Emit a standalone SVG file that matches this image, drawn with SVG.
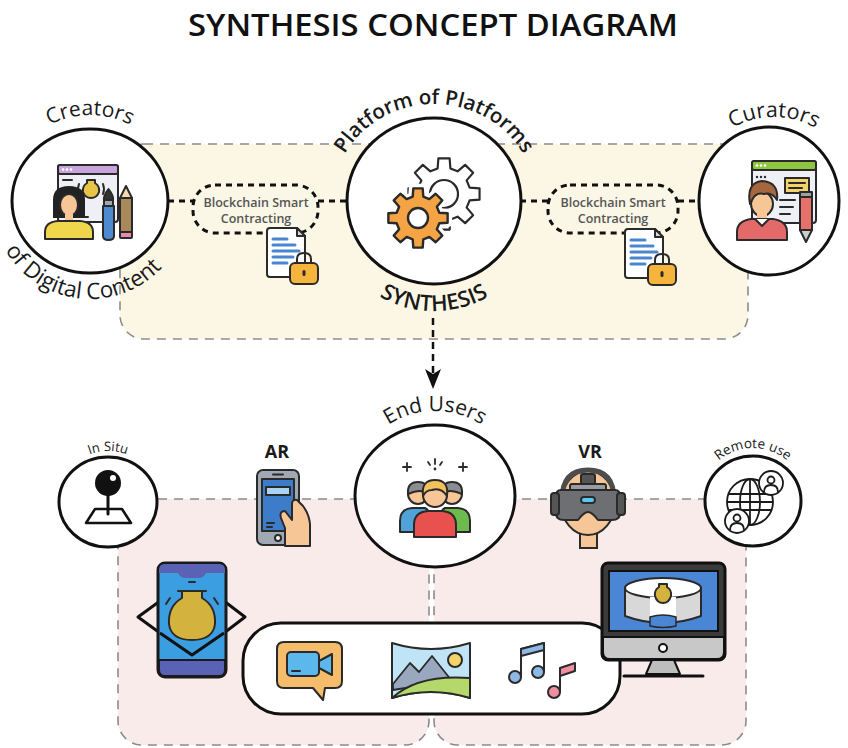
<svg xmlns="http://www.w3.org/2000/svg" xmlns:xlink="http://www.w3.org/1999/xlink" width="848" height="748" viewBox="0 0 848 748">
  <style>
    .zone { stroke:#8c8c8c; stroke-width:1.6; stroke-dasharray:9 7; }
    .ring { fill:#fff; stroke:#111; stroke-width:3; }
    .link { fill:none; stroke:#111; stroke-width:3; stroke-dasharray:6 5; }
    .ol { stroke:#2a2a2a; stroke-width:2; stroke-linejoin:round; stroke-linecap:round; }
    .arc { font-family:"Open Sans","DejaVu Sans",sans-serif; fill:#1a1a1a; }
    .box { fill:#fbf7e6; stroke:#111; stroke-width:3; stroke-dasharray:6 5; }
    .boxtxt { font-family:"Open Sans","DejaVu Sans",sans-serif; font-size:12.5px; font-weight:600; fill:#555; text-anchor:middle; }
    .lbl { font-family:"Open Sans","DejaVu Sans",sans-serif; font-size:18px; font-weight:700; fill:#1a1a1a; text-anchor:middle; }
    .peach { fill:#f6c697; }
  </style>
  <defs>
    <path id="gear" d="M21.35,-5.32 L29.63,-4.69 L29.63,4.69 L21.35,5.32 L18.86,11.33 L24.27,17.63 L17.63,24.27 L11.33,18.86 L5.32,21.35 L4.69,29.63 L-4.69,29.63 L-5.32,21.35 L-11.33,18.86 L-17.63,24.27 L-24.27,17.63 L-18.86,11.33 L-21.35,5.32 L-29.63,4.69 L-29.63,-4.69 L-21.35,-5.32 L-18.86,-11.33 L-24.27,-17.63 L-17.63,-24.27 L-11.33,-18.86 L-5.32,-21.35 L-4.69,-29.63 L4.69,-29.63 L5.32,-21.35 L11.33,-18.86 L17.63,-24.27 L24.27,-17.63 L18.86,-11.33 Z"/>
    <symbol id="contract" viewBox="0 0 52 58" width="52" height="58" overflow="visible">
      <path class="ol" d="M0,3 Q0,0 3,0 H30 L38,8 V46 Q38,49 35,49 H3 Q0,49 0,46 Z" fill="#fff"/>
      <path class="ol" d="M30,0 V8 H38 Z" fill="#d8d8d8"/>
      <g stroke="#4a86d0" stroke-width="3" stroke-linecap="round">
        <line x1="6" y1="11" x2="20" y2="11"/>
        <line x1="6" y1="17" x2="28" y2="17"/>
        <line x1="6" y1="23" x2="32" y2="23"/>
        <line x1="6" y1="29" x2="26" y2="29"/>
        <line x1="6" y1="35" x2="20" y2="35"/>
      </g>
      <path class="ol" d="M30,36 V31 Q30,25 37,25 Q44,25 44,31 V36" fill="none" stroke-width="2.5"/>
      <rect class="ol" x="23" y="35" width="28" height="21" rx="5" fill="#f5b43c"/>
      <rect x="35.5" y="42" width="3" height="6" rx="1.5" fill="#2a2a2a"/>
    </symbol>
    <marker id="arrowHead" viewBox="0 0 20 16" refX="18" refY="8" markerWidth="20" markerHeight="16" markerUnits="userSpaceOnUse" orient="auto">
      <path d="M0,0 L20,8 L0,16 L5,8 Z" fill="#111"/>
    </marker>
    <path id="pCreators" d="M4,201 A86,86 0 0 1 176,201"/>
    <path id="pDigital" d="M-8,201 A98,98 0 0 0 188,201"/>
    <path id="pPlatform" d="M332,201 A102,97 0 0 1 536,201"/>
    <path id="pSynth" d="M324,201 A110,110 0 0 0 544,201"/>
    <path id="pCurators" d="M690,201 A84,84 0 0 1 858,201"/>
    <path id="pEnd" d="M350,496 A85,85 0 0 1 520,496"/>
    <path id="pSitu" d="M57,502 A51,51 0 0 1 159,502"/>
    <path id="pRemote" d="M700,501 A53,53 0 0 1 806,501"/>
  </defs>

  <rect width="848" height="748" fill="#fff"/>

  <!-- heading -->
  <text x="433" y="36" text-anchor="middle" font-family="'Open Sans','DejaVu Sans',sans-serif" font-size="30" font-weight="600" fill="#111" textLength="490" lengthAdjust="spacingAndGlyphs">SYNTHESIS CONCEPT DIAGRAM</text>

  <!-- background zones -->
  <g id="zones">
    <rect class="zone" x="120" y="144" width="628" height="195" rx="24" fill="#fcf7e4"/>
    <rect class="zone" x="118" y="499" width="311" height="246" rx="24" fill="#f8ebe9"/>
    <rect class="zone" x="434" y="499" width="312" height="246" rx="24" fill="#f8ebe9"/>
  </g>

  <!-- connectors -->
  <g id="connectors">
    <line class="link" x1="168" y1="201" x2="194" y2="201"/>
    <line class="link" x1="318" y1="201" x2="348" y2="201"/>
    <line class="link" x1="520" y1="201" x2="548" y2="201"/>
    <line class="link" x1="678" y1="201" x2="700" y2="201"/>
    <line x1="433" y1="318" x2="433" y2="387" stroke="#111" stroke-width="2.5" stroke-dasharray="7 5" marker-end="url(#arrowHead)"/>
  </g>

  <!-- creators of digital content -->
  <g id="creators">
    <ellipse class="ring" cx="90" cy="201" rx="78" ry="72"/>
    <rect class="ol" x="58" y="165" width="60" height="57" rx="3" fill="#eef0f6"/>
    <rect class="ol" x="58" y="165" width="60" height="9" rx="2" fill="#c9a3dc"/>
    <g fill="#fff"><circle cx="63" cy="169.5" r="1.3"/><circle cx="67" cy="169.5" r="1.3"/><circle cx="71" cy="169.5" r="1.3"/></g>
    <line class="ol" x1="63" y1="180" x2="72" y2="180"/>
    <path class="ol" d="M87,180 H95 V183 Q100,186 99,192 Q97,198 91,198 Q85,198 83,192 Q82,186 87,183 Z" fill="#e8c447"/>
    <path class="ol" d="M79,184 Q77,189 79,194 M103,184 Q105,189 103,194" fill="none"/>
    <path class="ol" d="M78,205 V217 H88" fill="none"/>
    <path d="M53,218 V200 Q53,186 69,186 Q85,186 85,200 V218 Z" fill="#222"/>
    <ellipse class="ol peach" cx="69" cy="205" rx="9" ry="11"/>
    <path d="M60,196 Q69,188 78,196 V192 Q69,185 60,192 Z" fill="#222"/>
    <rect x="65" y="214" width="8" height="8" class="peach"/>
    <path class="ol" d="M45,239 V232 Q45,222 58,221 H80 Q93,222 93,232 V239 Z" fill="#f0d64c"/>
    <path class="ol" d="M108.5,189 Q114,196 113,200 H104 Q103,196 108.5,189 Z" fill="#333"/>
    <rect class="ol" x="104" y="200" width="9" height="6" fill="#a0a8b0"/>
    <path class="ol" d="M103,206 H114 V236 Q114,240 108.5,240 Q103,240 103,236 Z" fill="#4d8bd0"/>
    <rect class="ol" x="120" y="198" width="12" height="34" fill="#a88a5a"/>
    <path class="ol" d="M120,198 L126,186 L132,198 Z" fill="#f3d9b0"/>
    <rect class="ol" x="120" y="232" width="12" height="6" rx="1" fill="#e98bb0"/>
    <text class="arc" style="font-size:21px"><textPath href="#pCreators" startOffset="50%" text-anchor="middle">Creators</textPath></text>
    <text class="arc" style="font-size:22.5px"><textPath href="#pDigital" startOffset="46.5%" text-anchor="middle">of Digital Content</textPath></text>
  </g>

  <!-- smart contract boxes -->
  <g id="contract-left">
    <rect class="box" x="193" y="185" width="125" height="48" rx="22"/>
    <text class="boxtxt" x="256" y="207">Blockchain Smart</text>
    <text class="boxtxt" x="256" y="223">Contracting</text>
    <use href="#contract" x="267" y="228"/>
  </g>
  <g id="contract-right">
    <rect class="box" x="548" y="185" width="130" height="48" rx="22"/>
    <text class="boxtxt" x="613" y="207">Blockchain Smart</text>
    <text class="boxtxt" x="613" y="223">Contracting</text>
    <use href="#contract" x="625" y="229"/>
  </g>

  <!-- platform of platforms -->
  <g id="synthesis">
    <ellipse class="ring" cx="434" cy="201" rx="87" ry="83"/>
    <use href="#gear" transform="translate(444,194) scale(1.2)" fill="#fff" stroke="#2a2a2a" stroke-width="1.8" stroke-linejoin="round"/>
    <circle cx="444" cy="194" r="14" fill="none" stroke="#2a2a2a" stroke-width="2.2"/>
    <use href="#gear" transform="translate(418,218)" fill="#fff" stroke="#fff" stroke-width="9" stroke-linejoin="round"/>
    <use href="#gear" transform="translate(418,218)" fill="#f5a445" stroke="#2a2a2a" stroke-width="2.4" stroke-linejoin="round"/>
    <circle cx="418" cy="218" r="10" fill="#fff" stroke="#2a2a2a" stroke-width="2.4"/>
    <text class="arc" style="font-size:20.5px;font-weight:600"><textPath href="#pPlatform" startOffset="50%" text-anchor="middle">Platform of Platforms</textPath></text>
    <text class="arc" style="font-size:22px;font-weight:600"><textPath href="#pSynth" startOffset="50%" text-anchor="middle">SYNTHESIS</textPath></text>
  </g>

  <!-- curators -->
  <g id="curators">
    <ellipse class="ring" cx="769" cy="201" rx="70" ry="74"/>
    <rect class="ol" x="752" y="161" width="64" height="62" rx="3" fill="#eef0f6"/>
    <rect class="ol" x="752" y="161" width="64" height="9" rx="2" fill="#8dc63f"/>
    <g fill="#fff"><circle cx="757" cy="165.5" r="1.3"/><circle cx="761" cy="165.5" r="1.3"/><circle cx="765" cy="165.5" r="1.3"/></g>
    <g fill="#2a2a2a"><circle cx="757" cy="177" r="1.2"/><circle cx="761" cy="177" r="1.2"/><circle cx="765" cy="177" r="1.2"/></g>
    <rect class="ol" x="785" y="178" width="24" height="15" fill="#f5d36b"/>
    <path class="ol" d="M789,183 H805 M789,188 H802" fill="none"/>
    <path class="ol" d="M780,200 H795 M780,207 H793 M780,214 H790" fill="none"/>
    <ellipse class="ol peach" cx="762" cy="204" rx="11" ry="12"/>
    <path class="ol" d="M750,204 Q746,183 762,181 Q779,182 777,200 Q772,192 764,194 Q756,192 752,200 Z" fill="#a5673f"/>
    <rect x="757" y="213" width="10" height="8" class="peach"/>
    <path class="ol" d="M737,240 V232 Q737,221 751,219 H773 Q787,221 787,232 V240 Z" fill="#e46a6a"/>
    <path class="ol" d="M755,219 L762,226 L769,219" fill="#fff"/>
    <rect class="ol" x="800" y="192" width="12" height="5" fill="#9aa3a0"/>
    <rect class="ol" x="800" y="197" width="12" height="33" fill="#e8706a"/>
    <path class="ol" d="M800,230 L806,242 L812,230 Z" fill="#c9cfcc"/>
    <text class="arc" style="font-size:21.5px"><textPath href="#pCurators" startOffset="50%" text-anchor="middle">Curators</textPath></text>
  </g>

  <!-- in situ -->
  <g id="in-situ">
    <ellipse class="ring" cx="108" cy="502" rx="49" ry="45"/>
    <path d="M86,523 H131 L122,509 H95 Z" fill="none" stroke="#111" stroke-width="2.5" stroke-linejoin="round"/>
    <line x1="108" y1="494" x2="108" y2="514" stroke="#111" stroke-width="3" stroke-linecap="round"/>
    <circle cx="108" cy="483" r="13" fill="#111"/>
    <circle cx="113" cy="478" r="3" fill="#fff"/>
    <text class="arc" style="font-size:13px"><textPath href="#pSitu" startOffset="50%" text-anchor="middle">In Situ</textPath></text>
  </g>

  <!-- AR -->
  <g id="ar">
    <text class="lbl" x="277" y="458">AR</text>
    <rect class="ol" x="257" y="470" width="42" height="75" rx="6" fill="#9fa8b3"/>
    <rect class="ol" x="262" y="479" width="32" height="52" fill="#3d7cc9"/>
    <rect class="ol" x="266" y="487" width="24" height="8" fill="#a9d3f2"/>
    <line class="ol" x1="273" y1="474.5" x2="283" y2="474.5"/>
    <circle class="ol" cx="278" cy="538" r="3" fill="#fff"/>
    <path class="ol" d="M267,523 H274 M267,527 H272" fill="none" stroke="#a9d3f2"/>
    <path class="ol peach" d="M285,546 V528 L281,518 Q279,511 285,511 L292,520 V504 Q292,499 297,500 L303,506 Q309,514 310,524 V546 Z"/>
  </g>

  <!-- end users -->
  <g id="end-users">
    <ellipse class="ring" cx="435" cy="496" rx="80" ry="71"/>
    <g stroke="#2a2a2a" stroke-width="1.8" stroke-linecap="round">
      <path d="M403,467 H411 M407,463 V471"/>
      <path d="M459,467 H467 M463,463 V471"/>
      <path d="M435,459 V464 M428,462 L430,465 M442,462 L440,465"/>
    </g>
    <circle cx="435" cy="469" r="1.4" fill="#2a2a2a"/>
    <path class="ol" d="M400,532 V521 Q400,509 412,508 H425 Q431,511 431,522 V532 Z" fill="#4fa3d9"/>
    <path class="ol" d="M439,532 V522 Q439,511 445,508 H458 Q470,509 470,521 V532 Z" fill="#6dbb4f"/>
    <circle class="ol peach" cx="418" cy="494" r="10"/>
    <path class="ol" d="M408,494 Q407,482 418,482 Q429,482 428,494 Q422,488 408,494 Z" fill="#8a8d92"/>
    <circle class="ol peach" cx="452" cy="494" r="10"/>
    <path class="ol" d="M442,494 Q441,482 452,482 Q463,482 462,494 Q448,488 442,494 Z" fill="#8a8d92"/>
    <path class="ol" d="M414,537 V525 Q414,512 428,511 H442 Q456,512 456,525 V537 Z" fill="#e8514e"/>
    <circle class="ol peach" cx="435" cy="495" r="12"/>
    <path class="ol" d="M423,496 Q421,480 435,480 Q449,480 447,496 Q441,487 432,490 Q426,490 423,496 Z" fill="#f1c35a"/>
    <text class="arc" style="font-size:21px"><textPath href="#pEnd" startOffset="50%" text-anchor="middle">End Users</textPath></text>
  </g>

  <!-- VR -->
  <g id="vr">
    <text class="lbl" x="590" y="458">VR</text>
    <rect x="580" y="530" width="17" height="18" class="peach" stroke="#2a2a2a" stroke-width="2"/>
    <ellipse class="ol peach" cx="588" cy="503" rx="27" ry="32"/>
    <path d="M562,500 Q562,470 588,470 Q614,470 614,500" fill="none" stroke="#4d4d4d" stroke-width="5"/>
    <rect class="ol" x="581" y="474" width="14" height="14" rx="2" fill="#555"/>
    <rect class="ol" x="570" y="484" width="36" height="8" rx="2" fill="#9a9ca0"/>
    <path class="ol" d="M561,490 H615 Q620,490 620,496 V513 Q620,520 612,520 H598 Q592,512 588,512 Q584,512 578,520 H564 Q556,520 556,513 V496 Q556,490 561,490 Z" fill="#6d6f72"/>
    <rect class="ol" x="581" y="497" width="14" height="6" rx="3" fill="#5ac8f0"/>
    <rect class="ol" x="551" y="493" width="8" height="22" rx="3" fill="#555"/>
    <rect class="ol" x="617" y="493" width="8" height="22" rx="3" fill="#555"/>
  </g>

  <!-- remote use -->
  <g id="remote-use">
    <ellipse class="ring" cx="753" cy="501" rx="48" ry="45"/>
    <g fill="none" stroke="#1a1a1a" stroke-width="1.8">
      <circle cx="750" cy="502" r="23" fill="#fff"/>
      <ellipse cx="750" cy="502" rx="10" ry="23"/>
      <line x1="750" y1="479" x2="750" y2="525"/>
      <line x1="728" y1="494" x2="772" y2="494"/>
      <line x1="727" y1="502" x2="773" y2="502"/>
      <line x1="728" y1="510" x2="772" y2="510"/>
      <circle cx="771" cy="483" r="12" fill="#fff"/>
      <circle cx="771" cy="480" r="3.5"/>
      <path d="M764,492 Q764,485 771,485 Q778,485 778,492"/>
      <circle cx="737" cy="521" r="12" fill="#fff"/>
      <circle cx="737" cy="518" r="3.5"/>
      <path d="M730,530 Q730,523 737,523 Q744,523 744,530"/>
    </g>
    <text class="arc" style="font-size:13.5px"><textPath href="#pRemote" startOffset="50%" text-anchor="middle">Remote use</textPath></text>
  </g>

  <!-- phone with augmented object -->
  <g id="ar-object">
    <path d="M160,601 L138,617 L160,633 M224,601 L245,617 L224,633" fill="none" stroke="#111" stroke-width="3" stroke-linejoin="round"/>
    <rect x="158" y="563" width="68" height="114" rx="7" fill="#3b9ee0" stroke="#1a1a1a" stroke-width="3"/>
    <path d="M159,573 V570 Q159,564 165,564 H219 Q225,564 225,570 V573 H206 Q204,578 198,578 H186 Q180,578 178,573 Z" fill="#5a62b5"/>
    <path d="M159,660 H225 V670 Q225,676 219,676 H165 Q159,676 159,670 Z" fill="#5a62b5" stroke="#1a1a1a" stroke-width="2"/>
    <path class="ol" d="M182,591 H202 V598 Q216,606 215,624 Q213,640 192,640 Q171,640 169,624 Q168,606 182,598 Z" fill="#d4b23e"/>
    <path class="ol" d="M178,591 H206" fill="none"/>
    <path class="ol" d="M189,582 H195 M170,598 L166,604 M214,598 L218,604" fill="none"/>
    <path d="M160,633 L192,655 L224,633" fill="none" stroke="#111" stroke-width="3" stroke-linejoin="round"/>
  </g>

  <!-- media bar -->
  <g id="media">
    <rect x="243" y="623" width="377" height="91" rx="38" fill="#fff" stroke="#111" stroke-width="3"/>
    <path class="ol" d="M284,642 H335 Q342,642 342,649 V681 Q342,688 335,688 H325 L323,700 L313,688 H284 Q277,688 277,681 V649 Q277,642 284,642 Z" fill="#f5bd6b"/>
    <rect class="ol" x="287" y="652" width="32" height="24" rx="4" fill="#5cb8ec"/>
    <path class="ol" d="M319,661 L332,654 V675 L319,668 Z" fill="#5cb8ec"/>
    <line class="ol" x1="292" y1="671" x2="300" y2="671"/>
    <path class="ol" d="M392,643 Q431,655 470,643 V698 Q431,686 392,698 Z" fill="#bfe4f5"/>
    <path d="M393,684 L410,663 L419,672 L432,656 L452,681 Q431,684 393,690 Z" fill="#9aa8bf" stroke="#2a2a2a" stroke-width="1.8" stroke-linejoin="round"/>
    <path class="ol" d="M392,698 Q418,674 470,678 V698 Q431,686 392,698 Z" fill="#b4d96a"/>
    <circle class="ol" cx="455" cy="660" r="7" fill="#f5d36b"/>
    <path class="ol" d="M521,677 V649 L544,643 V672" fill="none"/>
    <path class="ol" d="M521,649 L544,643 V650 L521,656 Z" fill="#8eb8e6"/>
    <circle class="ol" cx="515" cy="677" r="6" fill="#8eb8e6"/>
    <circle class="ol" cx="538" cy="672" r="6" fill="#8eb8e6"/>
    <path class="ol" d="M560,692 V668 L575,663 V671 L560,676" fill="#ef8ea0"/>
    <circle class="ol" cx="554" cy="692" r="6" fill="#ef8ea0"/>
  </g>

  <!-- monitor showing virtual exhibit -->
  <g id="monitor">
    <rect x="602" y="563" width="123" height="97" rx="6" fill="#3b3b3b" stroke="#111" stroke-width="3"/>
    <rect x="609" y="571" width="109" height="60" fill="#4a86d4" stroke="#111" stroke-width="2"/>
    <path d="M603,637 H724 V652 Q724,659 717,659 H610 Q603,659 603,652 Z" fill="#c8c8c8" stroke="#111" stroke-width="2"/>
    <circle cx="663" cy="648" r="4" fill="#fff" stroke="#111" stroke-width="2"/>
    <path d="M652,660 H674 L680,674 H646 Z" fill="#bdbdbd" stroke="#111" stroke-width="2" stroke-linejoin="round"/>
    <line x1="624" y1="676" x2="703" y2="676" stroke="#111" stroke-width="3" stroke-linecap="round"/>
    <path class="ol" d="M625,588 V616 Q663,630 701,616 V588" fill="#d8d8d8"/>
    <ellipse class="ol" cx="663" cy="588" rx="38" ry="10" fill="#fff"/>
    <path d="M650,597 H676 V625 Q663,628 650,625 Z" fill="#fff"/>
    <path d="M650,617 Q663,613 676,617 V626 Q663,629 650,626 Z" fill="#4a86d4" stroke="#2a2a2a" stroke-width="1.5"/>
    <path class="ol" d="M659,584 H667 V587 Q672,590 671,596 Q669,603 663,603 Q657,603 655,596 Q654,590 659,587 Z" fill="#d4b23e"/>
  </g>
</svg>
